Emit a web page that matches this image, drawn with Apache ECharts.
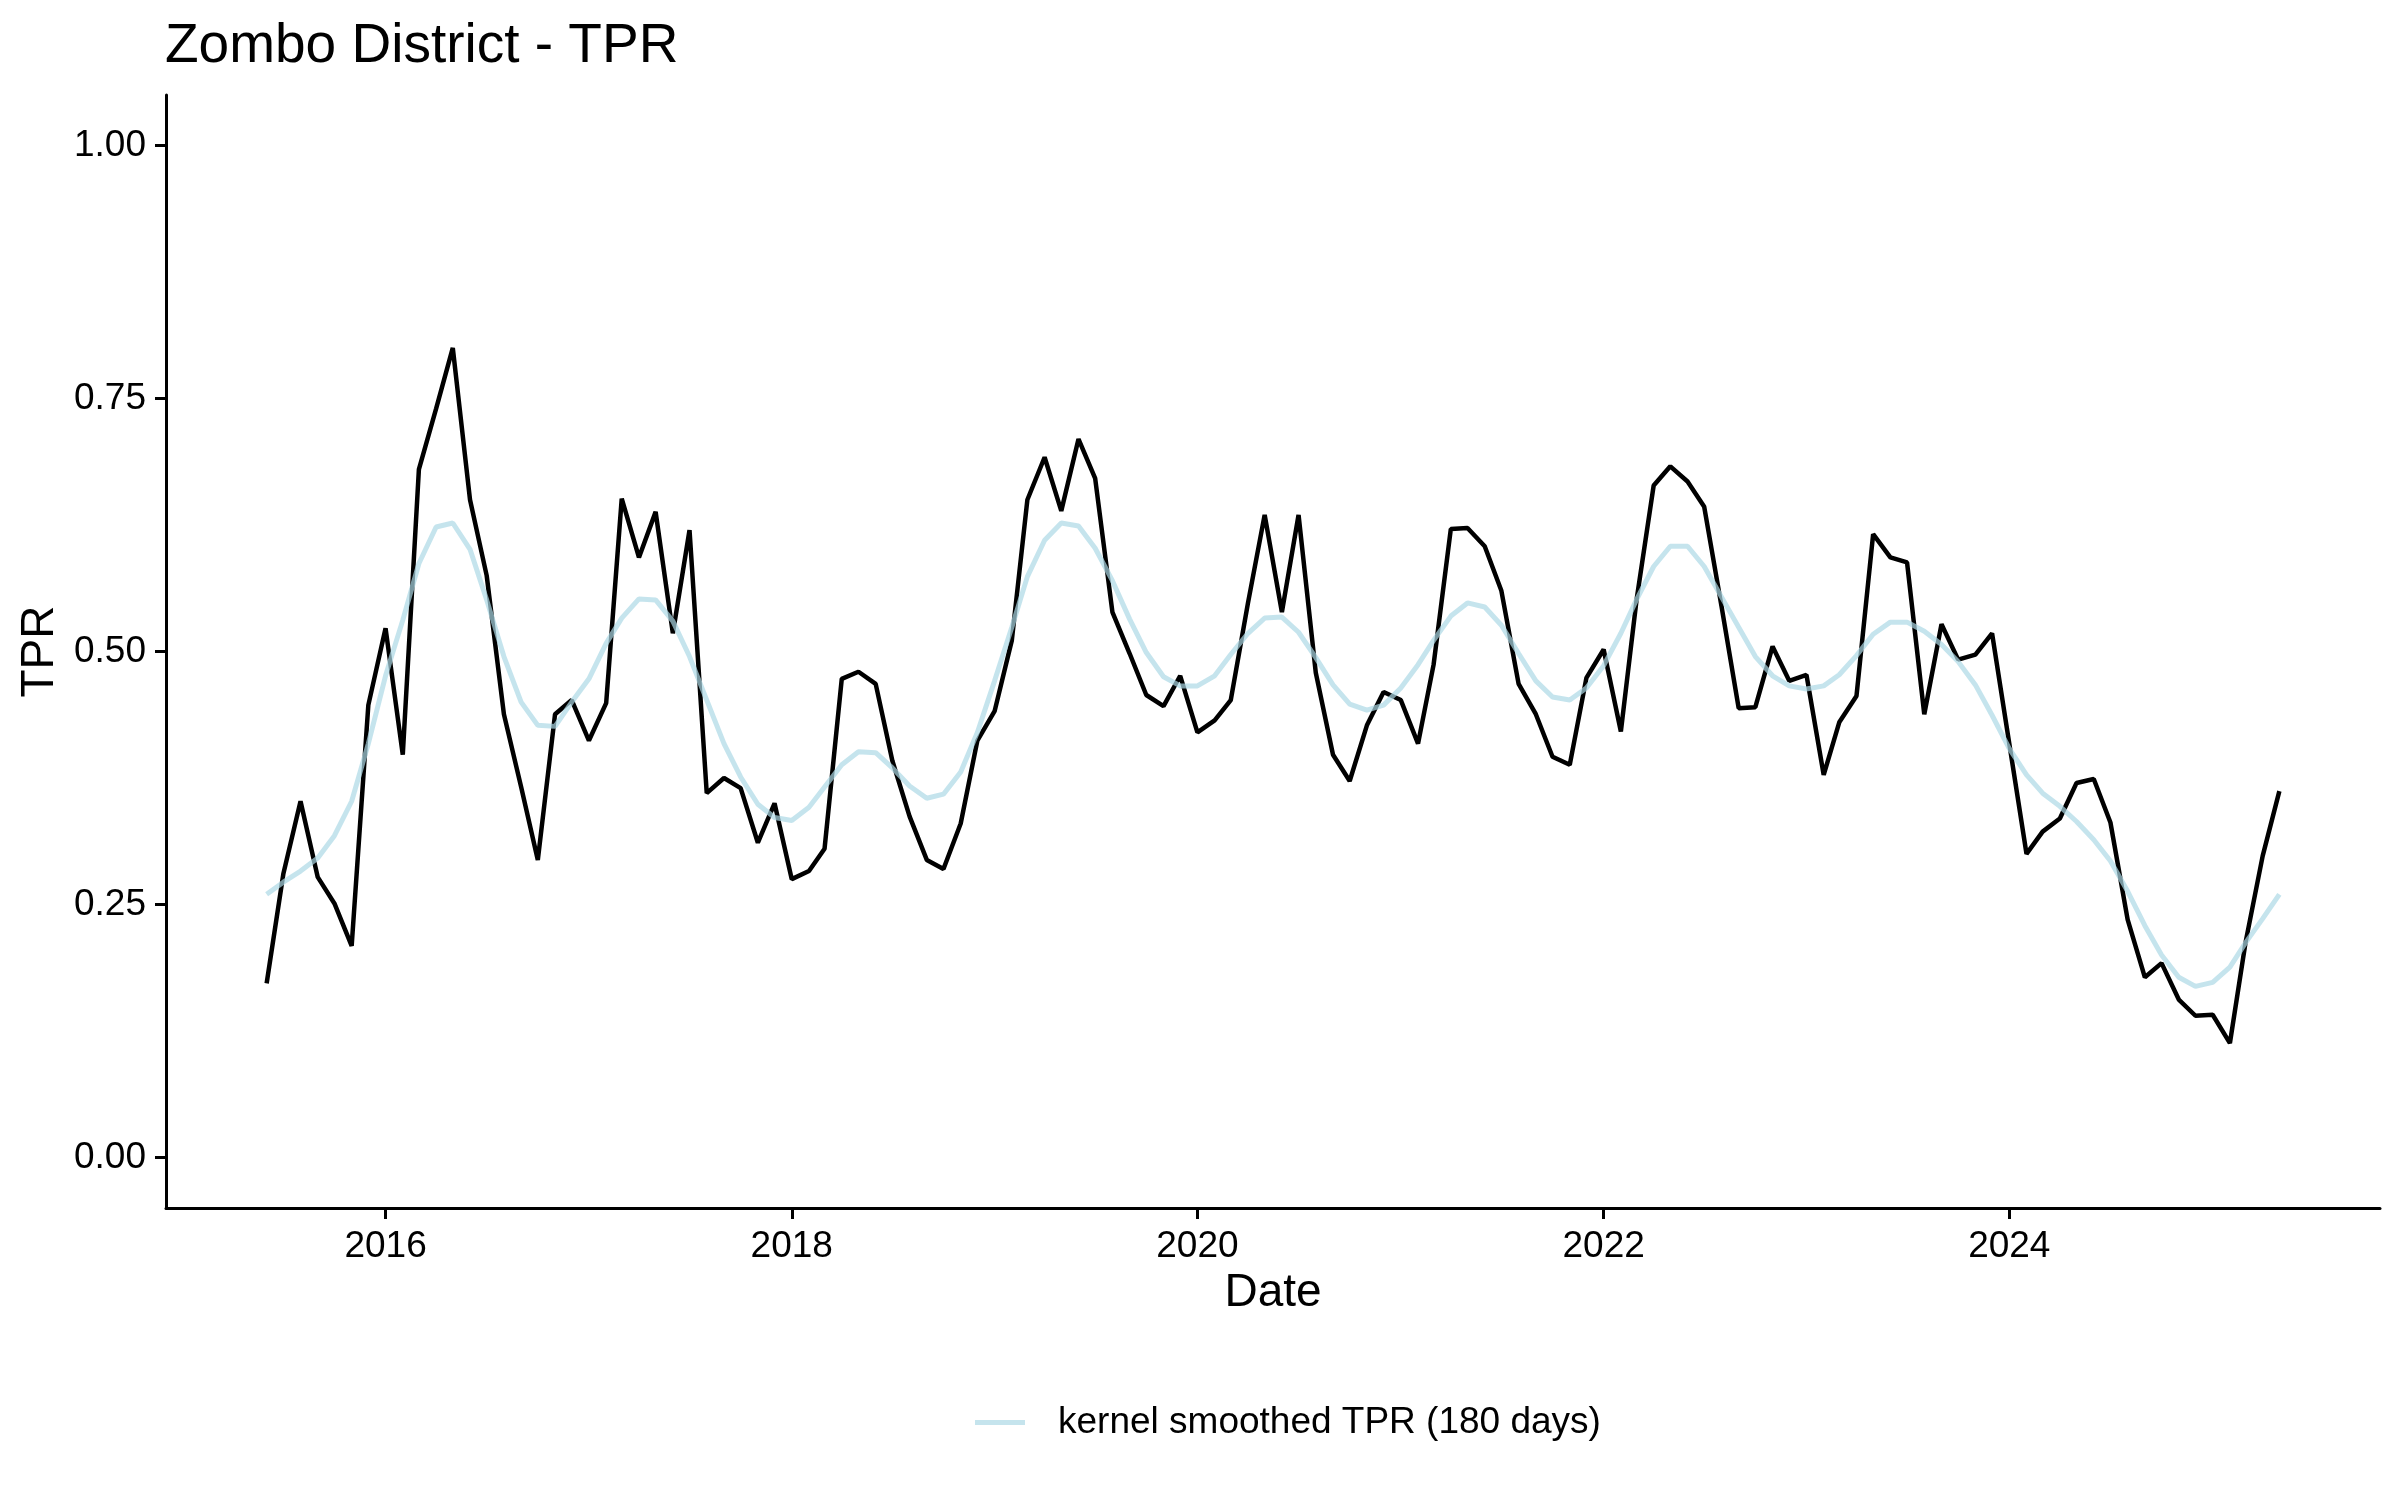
<!DOCTYPE html>
<html>
<head>
<meta charset="utf-8">
<script src="https://cdn.jsdelivr.net/npm/echarts@6/dist/echarts.min.js"></script>
<style>
  html, body { margin: 0; padding: 0; background: #ffffff; }
  #chart { width: 2400px; height: 1500px; }
</style>
</head>
<body>
<div id="chart"></div>
<script>
const months = [
  '2015-06','2015-07','2015-08','2015-09','2015-10','2015-11','2015-12',
  '2016-01','2016-02','2016-03','2016-04','2016-05','2016-06','2016-07','2016-08','2016-09','2016-10','2016-11','2016-12',
  '2017-01','2017-02','2017-03','2017-04','2017-05','2017-06','2017-07','2017-08','2017-09','2017-10','2017-11','2017-12',
  '2018-01','2018-02','2018-03','2018-04','2018-05','2018-06','2018-07','2018-08','2018-09','2018-10','2018-11','2018-12',
  '2019-01','2019-02','2019-03','2019-04','2019-05','2019-06','2019-07','2019-08','2019-09','2019-10','2019-11','2019-12',
  '2020-01','2020-02','2020-03','2020-04','2020-05','2020-06','2020-07','2020-08','2020-09','2020-10','2020-11','2020-12',
  '2021-01','2021-02','2021-03','2021-04','2021-05','2021-06','2021-07','2021-08','2021-09','2021-10','2021-11','2021-12',
  '2022-01','2022-02','2022-03','2022-04','2022-05','2022-06','2022-07','2022-08','2022-09','2022-10','2022-11','2022-12',
  '2023-01','2023-02','2023-03','2023-04','2023-05','2023-06','2023-07','2023-08','2023-09','2023-10','2023-11','2023-12',
  '2024-01','2024-02','2024-03','2024-04','2024-05','2024-06','2024-07','2024-08','2024-09','2024-10','2024-11','2024-12',
  '2025-01','2025-02','2025-03','2025-04','2025-05'
];

const tpr = [
  0.172, 0.280, 0.352, 0.277, 0.251, 0.209, 0.447,
  0.523, 0.398, 0.680, 0.740, 0.800, 0.650, 0.575, 0.438, 0.366, 0.294, 0.438, 0.452,
  0.412, 0.449, 0.651, 0.593, 0.638, 0.518, 0.620, 0.360, 0.375, 0.365, 0.311, 0.350,
  0.275, 0.283, 0.305, 0.473, 0.480, 0.468, 0.392, 0.337, 0.294, 0.285, 0.330, 0.412,
  0.441, 0.511, 0.650, 0.692, 0.639, 0.710, 0.671, 0.539, 0.498, 0.457, 0.446, 0.476,
  0.420, 0.432, 0.452, 0.548, 0.635, 0.539, 0.635, 0.479, 0.398, 0.372, 0.427, 0.460,
  0.452, 0.409, 0.487, 0.621, 0.622, 0.604, 0.560, 0.468, 0.438, 0.396, 0.388, 0.474,
  0.502, 0.421, 0.550, 0.664, 0.683, 0.668, 0.643, 0.545, 0.444, 0.445, 0.505, 0.471,
  0.477, 0.378, 0.430, 0.456, 0.616, 0.593, 0.588, 0.438, 0.527, 0.492, 0.497, 0.518,
  0.409, 0.300, 0.322, 0.335, 0.370, 0.374, 0.331, 0.235, 0.178, 0.192, 0.156, 0.140,
  0.141, 0.113, 0.212, 0.298, 0.362
];

const smoothTpr = [
  0.260, 0.272, 0.283, 0.296, 0.318, 0.352, 0.409,
  0.476, 0.531, 0.587, 0.623, 0.627, 0.601, 0.551, 0.495, 0.450, 0.427, 0.426, 0.450,
  0.473, 0.508, 0.533, 0.552, 0.551, 0.530, 0.495, 0.452, 0.409, 0.376, 0.349, 0.336,
  0.333, 0.346, 0.366, 0.388, 0.401, 0.400, 0.385, 0.367, 0.355, 0.359, 0.381, 0.420,
  0.471, 0.524, 0.574, 0.610, 0.627, 0.624, 0.602, 0.570, 0.532, 0.499, 0.475, 0.466,
  0.466, 0.476, 0.497, 0.518, 0.533, 0.534, 0.519, 0.494, 0.467, 0.448, 0.442, 0.447,
  0.464, 0.487, 0.511, 0.535, 0.548, 0.544, 0.526, 0.498, 0.471, 0.455, 0.452, 0.464,
  0.486, 0.518, 0.551, 0.584, 0.604, 0.604, 0.584, 0.554, 0.524, 0.495, 0.476, 0.466,
  0.463, 0.466, 0.477, 0.496, 0.517, 0.529, 0.529, 0.520, 0.507, 0.490, 0.467, 0.437,
  0.404, 0.378, 0.360, 0.347, 0.332, 0.314, 0.293, 0.263, 0.229, 0.200, 0.178, 0.169,
  0.173, 0.188, 0.212, 0.236, 0.260
];

const yTicks = [0, 0.25, 0.5, 0.75, 1];
const xTickYears = [2016, 2018, 2020, 2022, 2024];
const titleText = 'Zombo District - TPR';
const legendName = 'kernel smoothed TPR (180 days)';

function toTime(m) {
  const p = m.split('-');
  return Date.UTC(+p[0], +p[1] - 1, 1);
}
const t0 = toTime(months[0]);
const t1 = toTime(months[months.length - 1]);
const pad = (t1 - t0) * 0.05;
const xTicks = xTickYears.map(y => Date.UTC(y, 0, 1));

const FONT = "'Liberation Sans', Arial, sans-serif";
const SMOOTH_COLOR = 'rgba(173,216,230,0.7)';

const chart = echarts.init(document.getElementById('chart'), null, { renderer: 'canvas' });
chart.setOption({
  animation: false,
  backgroundColor: '#ffffff',
  textStyle: { fontFamily: FONT },
  title: {
    text: titleText,
    left: 160,
    top: 14,
    textStyle: { fontFamily: FONT, fontSize: 55, fontWeight: 'normal', color: '#000' }
  },
  grid: { left: 166, top: 95, right: 20, bottom: 292, containLabel: false },
  legend: {
    data: [{
      name: legendName,
      icon: 'path://M0,0 L10,0 L10,1 L0,1 Z',
      itemStyle: { color: SMOOTH_COLOR, borderWidth: 0 }
    }],
    left: 970,
    top: 1399,
    itemWidth: 54,
    itemHeight: 5,
    textStyle: { fontFamily: FONT, fontSize: 37, color: '#000', padding: [0, 0, 0, 26] }
  },
  xAxis: {
    type: 'value',
    min: t0 - pad,
    max: t1 + pad,
    name: 'Date',
    nameLocation: 'middle',
    nameGap: 58,
    nameTextStyle: { fontFamily: FONT, fontSize: 46, color: '#000' },
    axisLine: { show: true, onZero: false, lineStyle: { color: '#000', width: 3 } },
    axisTick: { show: true, length: 11, lineStyle: { color: '#000', width: 3 }, customValues: xTicks },
    axisLabel: {
      show: true, margin: 20, fontSize: 37, color: '#000', fontFamily: FONT,
      customValues: xTicks,
      formatter: v => String(new Date(v).getUTCFullYear())
    },
    splitLine: { show: false }
  },
  yAxis: {
    type: 'value',
    min: -0.05,
    max: 1.05,
    name: 'TPR',
    nameLocation: 'middle',
    nameRotate: 90,
    nameGap: 100,
    nameTextStyle: { fontFamily: FONT, fontSize: 46, color: '#000' },
    axisLine: { show: true, onZero: false, lineStyle: { color: '#000', width: 3 } },
    axisTick: { show: true, length: 11, lineStyle: { color: '#000', width: 3 }, customValues: yTicks },
    axisLabel: {
      show: true, margin: 20, fontSize: 37, color: '#000', fontFamily: FONT,
      customValues: yTicks,
      formatter: v => v.toFixed(2)
    },
    splitLine: { show: false }
  },
  series: [
    {
      name: 'TPR',
      type: 'line',
      data: months.map((m, i) => [toTime(m), tpr[i]]),
      showSymbol: false,
      symbol: 'none',
      lineStyle: { color: '#000000', width: 4.5 },
      itemStyle: { color: '#000000' },
      z: 3
    },
    {
      name: legendName,
      type: 'line',
      data: months.map((m, i) => [toTime(m), smoothTpr[i]]),
      showSymbol: false,
      symbol: 'none',
      lineStyle: { color: SMOOTH_COLOR, width: 5 },
      itemStyle: { color: SMOOTH_COLOR },
      z: 4
    }
  ]
});
</script>
</body>
</html>
